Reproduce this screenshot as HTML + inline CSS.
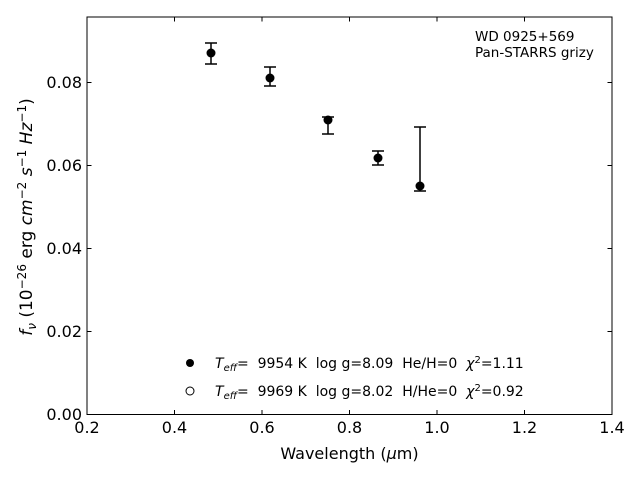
<!DOCTYPE html>
<html><head><style>body{margin:0;background:#fff}svg{display:block}text{font-family:"DejaVu Sans","Liberation Sans",sans-serif;white-space:pre}</style></head><body>
<svg width="640" height="480" xmlns="http://www.w3.org/2000/svg">
<rect x="87" y="17" width="525" height="397.5" fill="none" stroke="#000" stroke-width="1"/>
<g stroke="#000" stroke-width="1">
<line x1="174.5" y1="414.5" x2="174.5" y2="410"/><line x1="262" y1="414.5" x2="262" y2="410"/><line x1="349.5" y1="414.5" x2="349.5" y2="410"/><line x1="437" y1="414.5" x2="437" y2="410"/><line x1="524.5" y1="414.5" x2="524.5" y2="410"/>
<line x1="174.5" y1="17" x2="174.5" y2="21.5"/><line x1="262" y1="17" x2="262" y2="21.5"/><line x1="349.5" y1="17" x2="349.5" y2="21.5"/><line x1="437" y1="17" x2="437" y2="21.5"/><line x1="524.5" y1="17" x2="524.5" y2="21.5"/>
<line x1="87" y1="331.5" x2="91.5" y2="331.5"/><line x1="87" y1="248.5" x2="91.5" y2="248.5"/><line x1="87" y1="165.5" x2="91.5" y2="165.5"/><line x1="87" y1="82.5" x2="91.5" y2="82.5"/>
<line x1="612" y1="331.5" x2="607.5" y2="331.5"/><line x1="612" y1="248.5" x2="607.5" y2="248.5"/><line x1="612" y1="165.5" x2="607.5" y2="165.5"/><line x1="612" y1="82.5" x2="607.5" y2="82.5"/>
</g>
<g font-size="16" text-anchor="middle">
<text x="87" y="433">0.2</text><text x="174.5" y="433">0.4</text><text x="262" y="433">0.6</text><text x="349.5" y="433">0.8</text><text x="437" y="433">1.0</text><text x="524.5" y="433">1.2</text><text x="612" y="433">1.4</text>
</g>
<g font-size="16" text-anchor="end">
<text x="82" y="420">0.00</text><text x="82" y="337">0.02</text><text x="82" y="254">0.04</text><text x="82" y="171">0.06</text><text x="82" y="88">0.08</text>
</g>
<text x="349.5" y="459" font-size="16" text-anchor="middle">Wavelength (<tspan font-style="italic">μ</tspan>m)</text>
<text transform="translate(32,217) rotate(-90)" font-size="17" text-anchor="middle"><tspan font-style="italic">f<tspan font-size="12" dy="4">ν</tspan></tspan><tspan dy="-4"> (10</tspan><tspan font-size="12" dy="-6">−26</tspan><tspan dy="6"> erg </tspan><tspan font-style="italic">cm</tspan><tspan font-size="12" dy="-6">−2</tspan><tspan dy="6" font-style="italic"> s</tspan><tspan font-size="12" dy="-6">−1</tspan><tspan dy="6" font-style="italic"> Hz</tspan><tspan font-size="12" dy="-6">−1</tspan><tspan dy="6">)</tspan></text>
<text x="475" y="41" font-size="13.5">WD 0925+569</text>
<text x="475" y="57" font-size="13.5">Pan-STARRS grizy</text>
<g stroke="#000" stroke-width="1.5">
<line x1="211" y1="43" x2="211" y2="64"/><line x1="205" y1="43" x2="217" y2="43"/><line x1="205" y1="64" x2="217" y2="64"/>
<line x1="270" y1="67" x2="270" y2="86"/><line x1="264" y1="67" x2="276" y2="67"/><line x1="264" y1="86" x2="276" y2="86"/>
<line x1="328" y1="117" x2="328" y2="134"/><line x1="322" y1="117" x2="334" y2="117"/><line x1="322" y1="134" x2="334" y2="134"/>
<line x1="378" y1="151" x2="378" y2="165"/><line x1="372" y1="151" x2="384" y2="151"/><line x1="372" y1="165" x2="384" y2="165"/>
<line x1="420" y1="127" x2="420" y2="191"/><line x1="414" y1="127" x2="426" y2="127"/><line x1="414" y1="191" x2="426" y2="191"/>
</g>
<g fill="#000"><circle cx="211" cy="53" r="4.5"/><circle cx="270" cy="78" r="4.5"/><circle cx="328" cy="120" r="4.5"/><circle cx="378" cy="158" r="4.5"/><circle cx="420" cy="186" r="4.5"/></g>
<circle cx="190" cy="363" r="4" fill="#000"/>
<circle cx="190" cy="391" r="4" fill="#fff" stroke="#000" stroke-width="1"/>
<text x="215" y="368" font-size="14"><tspan font-style="italic">T<tspan font-size="10" dy="3">eff</tspan></tspan><tspan dy="-3">=  9954 K  log g=8.09  He/H=0  </tspan><tspan font-style="italic">χ</tspan><tspan font-size="10" dy="-5">2</tspan><tspan dy="5">=1.11</tspan></text>
<text x="215" y="396" font-size="14"><tspan font-style="italic">T<tspan font-size="10" dy="3">eff</tspan></tspan><tspan dy="-3">=  9969 K  log g=8.02  H/He=0  </tspan><tspan font-style="italic">χ</tspan><tspan font-size="10" dy="-5">2</tspan><tspan dy="5">=0.92</tspan></text>
</svg>
</body></html>
